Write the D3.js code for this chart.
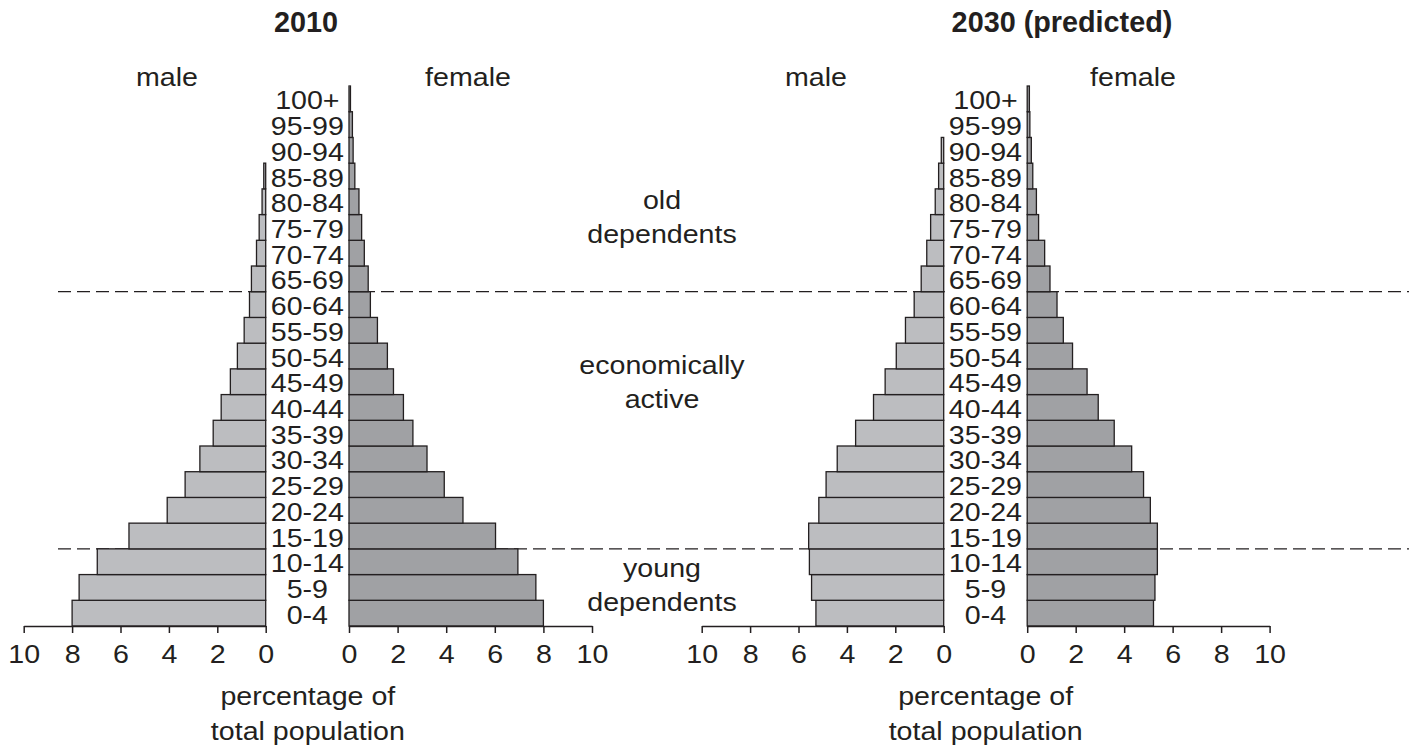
<!DOCTYPE html>
<html>
<head>
<meta charset="utf-8">
<script src="https://cdn.jsdelivr.net/npm/d3@7"></script>
<style>
  html, body { margin: 0; padding: 0; background: #fff; }
  svg text { font-family: "Liberation Sans", Arial, Helvetica, sans-serif; fill: #231f20; }
</style>
</head>
<body>
<svg id="viz" width="1418" height="747"></svg>
<script>
// age groups, bottom to top
var ages = ["0-4", "5-9", "10-14", "15-19", "20-24", "25-29", "30-34", "35-39", "40-44", "45-49",
            "50-54", "55-59", "60-64", "65-69", "70-74", "75-79", "80-84", "85-89", "90-94", "95-99", "100+"];

// percentage of total population, same order as ages
var male2010   = [8.0, 7.71, 6.96, 5.65, 4.07, 3.33, 2.72, 2.17, 1.84, 1.46, 1.17, 0.89, 0.67, 0.59, 0.38, 0.27, 0.15, 0.08, 0, 0, 0];
var female2010 = [8.0, 7.69, 6.95, 6.03, 4.69, 3.92, 3.21, 2.63, 2.24, 1.83, 1.58, 1.17, 0.88, 0.79, 0.63, 0.52, 0.41, 0.24, 0.17, 0.14, 0.06];
var male2030   = [5.28, 5.46, 5.55, 5.58, 5.16, 4.86, 4.40, 3.64, 2.90, 2.42, 1.96, 1.58, 1.22, 0.93, 0.70, 0.54, 0.35, 0.21, 0.1, 0, 0];
var female2030 = [5.21, 5.27, 5.37, 5.37, 5.08, 4.80, 4.31, 3.59, 2.93, 2.47, 1.87, 1.49, 1.23, 0.94, 0.72, 0.47, 0.38, 0.23, 0.17, 0.11, 0.09];

var tickValues = [0, 2, 4, 6, 8, 10];
var titles = ["2010", "2030 (predicted)"];
var zones = [
    { lines: ["old", "dependents"], y: 209 },
    { lines: ["economically", "active"], y: 374 },
    { lines: ["young", "dependents"], y: 577 }
];

var INK = "#231f20";
var MALE_FILL = "#bcbdc0";
var FEMALE_FILL = "#a0a1a4";
var SX = 1.1; // the source lettering is a little wider than Arial

var svg = d3.select("#viz");
var top0 = 86, axisY = 626;

var y = d3.scaleBand().domain(ages.slice().reverse()).range([top0, axisY]).paddingInner(0).paddingOuter(0);
var bw = y.bandwidth();

function label(g, x, yy, s, o) {
    o = o || {};
    return g.append("text")
        .attr("transform", "translate(" + x + "," + yy + ") scale(" + (o.sx || SX) + ",1)")
        .attr("text-anchor", o.anchor || "middle")
        .style("font-size", (o.size || 26) + "px")
        .style("font-weight", o.weight || "normal")
        .text(s);
}

var panels = [
    { male: male2010, female: female2010, m0: 23.7, m1: 265.7, f0: 349, f1: 592, title: titles[0], titleX: 306,
      maleX: 167, femaleX: 468 },
    { male: male2030, female: female2030, m0: 701.7, m1: 943.7, f0: 1027.2, f1: 1269.6, title: titles[1], titleX: 1062,
      maleX: 816, femaleX: 1133 }
];

// dashed boundaries between dependency groups
var dashG = svg.append("g");
[y("65-69") + bw, y("15-19") + bw].forEach(function (yy) {
    dashG.append("line")
        .attr("x1", 58).attr("x2", 1409)
        .attr("y1", yy).attr("y2", yy)
        .attr("stroke", INK).attr("stroke-width", 1.3)
        .attr("stroke-dasharray", "13,6");
});

panels.forEach(function (p) {
    var g = svg.append("g");
    var xm = d3.scaleLinear().domain([10, 0]).range([p.m0, p.m1]);
    var xf = d3.scaleLinear().domain([0, 10]).range([p.f0, p.f1]);

    // the label column hides the dashes
    g.append("rect")
        .attr("x", p.m1 + 1).attr("y", top0 - 2)
        .attr("width", p.f0 - p.m1 - 2).attr("height", axisY - top0 + 2)
        .attr("fill", "#fff");

    var rows = ages.map(function (a, i) { return { age: a, m: p.male[i], f: p.female[i] }; });

    g.selectAll("rect.male").data(rows.filter(function (d) { return d.m > 0; }))
        .enter().append("rect").attr("class", "male")
        .attr("x", function (d) { return xm(d.m); })
        .attr("y", function (d) { return y(d.age); })
        .attr("width", function (d) { return xm(0) - xm(d.m); })
        .attr("height", bw)
        .attr("fill", MALE_FILL).attr("stroke", INK).attr("stroke-width", 1.3);

    g.selectAll("rect.female").data(rows.filter(function (d) { return d.f > 0; }))
        .enter().append("rect").attr("class", "female")
        .attr("x", xf(0))
        .attr("y", function (d) { return y(d.age); })
        .attr("width", function (d) { return xf(d.f) - xf(0); })
        .attr("height", bw)
        .attr("fill", FEMALE_FILL).attr("stroke", INK).attr("stroke-width", 1.3);

    // age labels
    var cx = (p.m1 + p.f0) / 2;
    ages.forEach(function (a) {
        label(g, cx, y(a) + bw / 2 + 10.5, a);
    });

    // axes
    [xm, xf].forEach(function (sc) {
        var ax = g.append("g").attr("transform", "translate(0," + axisY + ")")
            .call(d3.axisBottom(sc).tickValues(tickValues).tickSize(7).tickSizeOuter(0).tickPadding(11));
        ax.select(".domain").attr("stroke", INK).attr("stroke-width", 1.5);
        ax.selectAll(".tick line").attr("stroke", INK).attr("stroke-width", 1.5);
        ax.selectAll(".tick text").remove();
        ax.selectAll(".tick").each(function (v) {
            label(d3.select(this), 0, 36.5, String(v));
        });
    });

    label(g, (p.m0 + p.f1) / 2, 705, "percentage of");
    label(g, (p.m0 + p.f1) / 2, 740, "total population");

    label(g, p.maleX, 86, "male");
    label(g, p.femaleX, 86, "female");
    label(g, p.titleX, 32, p.title, { size: 30, weight: "bold", sx: 0.96 });
});

// dependency group names between the two pyramids
zones.forEach(function (z) {
    z.lines.forEach(function (s, i) {
        label(svg, 662, z.y + i * 34, s);
    });
});
</script>
</body>
</html>
